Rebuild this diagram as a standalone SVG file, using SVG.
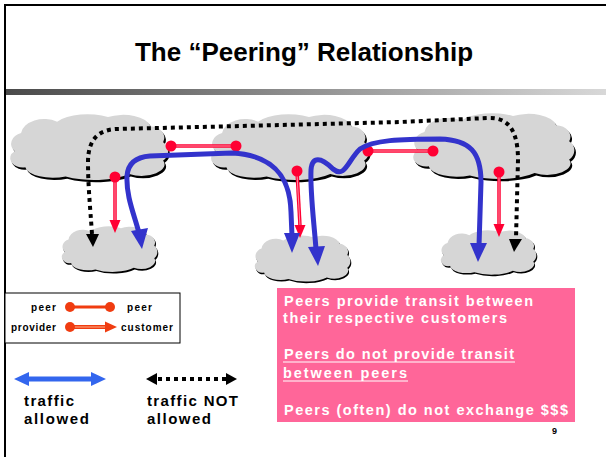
<svg xmlns="http://www.w3.org/2000/svg" xmlns:xlink="http://www.w3.org/1999/xlink" width="606" height="457" viewBox="0 0 606 457">
  <style>
    .title { font-family: "Liberation Sans", Arial, sans-serif; font-weight: bold; font-size: 26px; fill: #000; }
    .lg { font-family: "Liberation Sans", Arial, sans-serif; font-weight: bold; font-size: 10px; fill: #000; }
    .tr { font-family: "Liberation Sans", Arial, sans-serif; font-weight: bold; font-size: 15px; fill: #000; }
    .note { font-family: "Liberation Sans", Arial, sans-serif; font-weight: bold; font-size: 14.5px; fill: #fff; }
    .pg { font-family: "Liberation Sans", Arial, sans-serif; font-weight: bold; font-size: 9px; fill: #000; }
    .peer { stroke: #ff0033; stroke-width: 3.5; fill: none; }
    .peer-in { stroke: #ff8fa6; stroke-width: 1; fill: none; }
    .dot { fill: #ff0033; }
    .rhead { fill: #ff0033; }
    .blue { stroke: #3333cc; stroke-width: 5; fill: none; stroke-linecap: round; stroke-linejoin: round; }
    .bhead { fill: #3333cc; }
    .dots { stroke: #000; stroke-width: 4; fill: none; stroke-dasharray: 4 4; }
    .khead { fill: #000; }
  </style>
  <defs>
    <linearGradient id="bar" x1="0" y1="0" x2="1" y2="0">
      <stop offset="0" stop-color="#4a4a4a"/>
      <stop offset="1" stop-color="#d8d8d8"/>
    </linearGradient>
    <!-- scalloped cloud, drawn in a 160 x 62 box, with a dark drop edge -->
    <path id="cloudShape" d="M 12,38 A 14,10 0 0 1 18,22 A 22,14 0 0 1 52,12 A 34,14 0 0 1 100,8 A 26,12 0 0 1 140,16 A 14,10 0 0 1 152,30 A 12,10 0 0 1 152,46 A 22,10 0 0 1 120,58 A 40,12 0 0 1 60,60 A 26,10 0 0 1 22,52 A 12,8 0 0 1 12,38 Z"/>
    <g id="cloud">
      <use xlink:href="#cloudShape" transform="translate(1.5,2)" fill="#000"/>
      <use xlink:href="#cloudShape" fill="#d6d6d6"/>
    </g>
  </defs>

  <!-- page frame and header -->
  <rect x="0" y="0" width="606" height="457" fill="#fff"/>
  <line x1="4" y1="5" x2="606" y2="5" stroke="#000" stroke-width="2"/>
  <line x1="5" y1="4" x2="5" y2="457" stroke="#000" stroke-width="2"/>
  <rect x="6" y="89" width="600" height="6" fill="url(#bar)"/>
  <text class="title" x="304" y="61" text-anchor="middle">The “Peering” Relationship</text>

  <!-- autonomous systems -->
  <g id="as-top-left"><use xlink:href="#cloud" transform="translate(2,108) scale(1.06,1.14)"/></g>
  <g id="as-top-mid"><use xlink:href="#cloud" transform="translate(203,108) scale(1.06,1.14)"/></g>
  <g id="as-top-right"><use xlink:href="#cloud" transform="translate(405,107) scale(1.08,1.14)"/></g>
  <g id="as-low-left"><use xlink:href="#cloud" transform="translate(57,222) scale(0.64,0.79)"/></g>
  <g id="as-low-mid"><use xlink:href="#cloud" transform="translate(250,231) scale(0.64,0.8)"/></g>
  <g id="as-low-right"><use xlink:href="#cloud" transform="translate(436,226) scale(0.64,0.77)"/></g>

  <g id="connectors">
    <!-- disallowed path: dotted -->
    <path class="dots" d="M 92,234 C 90,205 88,185 88,162 C 88,140 98,130 116,129 L 200,127 L 400,122 L 488,118 C 508,117 518,130 518,160 L 516,238"/>
    <polygon class="khead" points="86,234 99,234 93,247"/>
    <polygon class="khead" points="509,239 522,239 514,252"/>

    <!-- peer links -->
    <line class="peer" x1="171" y1="146" x2="236" y2="146"/>
    <line class="peer-in" x1="171" y1="146" x2="236" y2="146"/>
    <circle class="dot" cx="171" cy="146" r="5.5"/>
    <circle class="dot" cx="236" cy="146" r="5.5"/>
    <line class="peer" x1="368" y1="151" x2="433" y2="151"/>
    <line class="peer-in" x1="368" y1="151" x2="433" y2="151"/>
    <circle class="dot" cx="368" cy="151" r="5.5"/>
    <circle class="dot" cx="433" cy="151" r="5.5"/>

    <!-- provider to customer -->
    <line class="peer" x1="115" y1="177" x2="115" y2="222"/>
    <line class="peer-in" x1="115" y1="180" x2="115" y2="222"/>
    <circle class="dot" cx="115" cy="177" r="5.5"/>
    <polygon class="rhead" points="109.5,220 120.5,220 115,233"/>

    <line class="peer" x1="297" y1="171" x2="300" y2="226"/>
    <line class="peer-in" x1="297" y1="174" x2="300" y2="226"/>
    <circle class="dot" cx="297" cy="171" r="5.5"/>
    <polygon class="rhead" points="294.5,225 305.5,225 300,238"/>

    <line class="peer" x1="499" y1="172" x2="499" y2="226"/>
    <line class="peer-in" x1="499" y1="175" x2="499" y2="226"/>
    <circle class="dot" cx="499" cy="172" r="5.5"/>
    <polygon class="rhead" points="493.5,224 504.5,224 499,237"/>

    <!-- allowed paths: blue -->
    <path class="blue" d="M 139,233 C 134,214 126,196 127,176 C 128,163 136,157 150,156 L 232,153 C 272,155 290,175 291,212 L 292,236"/>
    <polygon class="bhead" points="131,231 148,228 142,249"/>
    <polygon class="bhead" points="284,233 300,233 292,253"/>

    <path class="blue" d="M 316,249 C 314,222 310,192 311,170 C 312,156 321,157 333,169 C 345,179 348,160 360,149 C 373,140 400,139 440,139 C 470,140 481,152 481,182 L 479,246"/>
    <polygon class="bhead" points="308,247 325,246 318,266"/>
    <polygon class="bhead" points="470,243 487,243 478,262"/>
  </g>

  <!-- legend -->
  <g id="legend">
    <rect x="5" y="293" width="175" height="50" fill="#fff" stroke="#000" stroke-width="1"/>
    <text class="lg" x="31" y="311" textLength="25" lengthAdjust="spacing">peer</text>
    <line x1="70" y1="307" x2="110" y2="307" stroke="#f03c10" stroke-width="3"/>
    <circle cx="70" cy="307" r="5" fill="#f03c10"/>
    <circle cx="110" cy="307" r="5" fill="#f03c10"/>
    <text class="lg" x="127" y="311" textLength="25" lengthAdjust="spacing">peer</text>

    <text class="lg" x="11" y="331" textLength="45" lengthAdjust="spacing">provider</text>
    <line x1="70" y1="327" x2="106" y2="327" stroke="#f03c10" stroke-width="4"/>
    <line x1="74" y1="327" x2="106" y2="327" stroke="#ffb08a" stroke-width="1"/>
    <circle cx="70" cy="327" r="5" fill="#f03c10"/>
    <polygon points="105,321.5 105,332.5 117,327" fill="#f03c10"/>
    <text class="lg" x="121" y="331" textLength="52" lengthAdjust="spacing">customer</text>
  </g>

  <g id="key-allowed">
    <line x1="26" y1="379" x2="94" y2="379" stroke="#3366ee" stroke-width="5"/>
    <polygon points="14,379 29,372 29,386" fill="#3366ee"/>
    <polygon points="106,379 91,372 91,386" fill="#3366ee"/>
    <text class="tr" x="24" y="406" textLength="50" lengthAdjust="spacing">traffic</text>
    <text class="tr" x="24" y="424" textLength="65" lengthAdjust="spacing">allowed</text>
  </g>

  <g id="key-not-allowed">
    <line x1="158" y1="379" x2="226" y2="379" stroke="#000" stroke-width="4" stroke-dasharray="4 4"/>
    <polygon points="146,379 157,373 157,385" fill="#000"/>
    <polygon points="237,379 226,373 226,385" fill="#000"/>
    <text class="tr" x="147" y="406" textLength="91" lengthAdjust="spacing">traffic NOT</text>
    <text class="tr" x="147" y="424" textLength="64" lengthAdjust="spacing">allowed</text>
  </g>

  <!-- summary box -->
  <g id="summary">
    <rect x="277" y="288" width="298" height="134" fill="#ff6699"/>
    <text class="note" x="284" y="306" textLength="249" lengthAdjust="spacing">Peers provide transit between</text>
    <text class="note" x="283" y="323" textLength="224" lengthAdjust="spacing">their respective customers</text>
    <text class="note" x="284" y="359" textLength="230" lengthAdjust="spacing">Peers do not provide transit</text>
    <line x1="283" y1="362" x2="515" y2="362" stroke="#fff" stroke-width="1"/>
    <text class="note" x="283" y="378" textLength="124" lengthAdjust="spacing">between peers</text>
    <line x1="283" y1="381" x2="408" y2="381" stroke="#fff" stroke-width="1"/>
    <text class="note" x="284" y="415" textLength="284" lengthAdjust="spacing">Peers (often) do not exchange $$$</text>
  </g>

  <text class="pg" x="552" y="434">9</text>
</svg>
